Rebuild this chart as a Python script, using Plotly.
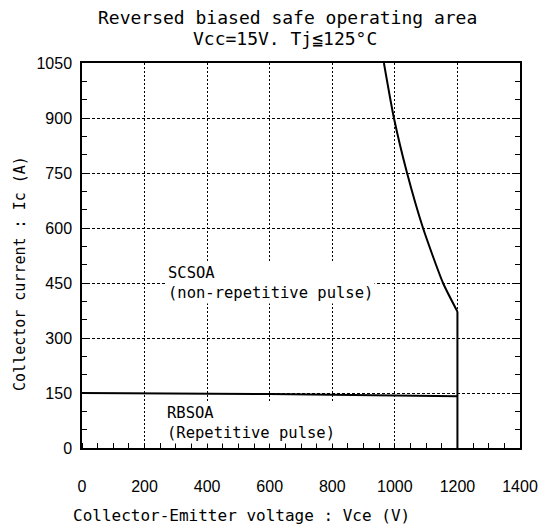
import plotly.graph_objects as go

# data
scsoa_v = [965, 997, 1039, 1090, 1154, 1200]
scsoa_i = [1050, 900, 750, 600, 450, 372]
vce_limit_v = [1200, 1200]
vce_limit_i = [372, 0]
rbsoa_v = [0, 600, 1200]
rbsoa_i = [150, 147, 141]
x_ticks = [0, 200, 400, 600, 800, 1000, 1200, 1400]
y_ticks = [0, 150, 300, 450, 600, 750, 900, 1050]
title_lines = ["Reversed biased safe operating area", "Vcc=15V. Tj≦125°C"]

mono = "DejaVu Sans Mono, Liberation Mono, monospace"
narrow = "Liberation Sans Narrow, Liberation Sans, Arial, sans-serif"

fig = go.Figure()
fig.add_trace(go.Scatter(x=scsoa_v, y=scsoa_i, mode="lines",
                         line=dict(color="black", width=2, shape="spline", smoothing=0.6),
                         showlegend=False))
fig.add_trace(go.Scatter(x=vce_limit_v, y=vce_limit_i, mode="lines",
                         line=dict(color="black", width=2), showlegend=False))
fig.add_trace(go.Scatter(x=rbsoa_v, y=rbsoa_i, mode="lines",
                         line=dict(color="black", width=2), showlegend=False))

fig.add_annotation(x=268, y=508, xref="x", yref="y", text="SCSOA<br>(non-repetitive pulse)",
                   showarrow=False, xanchor="left", yanchor="top", align="left",
                   bgcolor="white",
                   font=dict(family=mono, size=15.5, color="black"))
fig.add_annotation(x=264, y=125, xref="x", yref="y", text="RBSOA<br>(Repetitive pulse)",
                   showarrow=False, xanchor="left", yanchor="top", align="left",
                   bgcolor="white",
                   font=dict(family=mono, size=15.5, color="black"))

# title lines
fig.add_annotation(x=0.470, y=1, xref="paper", yref="paper", yshift=46,
                   text=title_lines[0], showarrow=False,
                   xanchor="center", yanchor="middle",
                   font=dict(family=mono, size=18, color="black"))
fig.add_annotation(x=0.463, y=1, xref="paper", yref="paper", yshift=25,
                   text=title_lines[1], showarrow=False,
                   xanchor="center", yanchor="middle",
                   font=dict(family=mono, size=18, color="black"))

# axis titles (placed as in the reference)
fig.add_annotation(x=0.365, y=0, xref="paper", yref="paper", yshift=-67,
                   text="Collector-Emitter voltage : Vce (V)", showarrow=False,
                   xanchor="center", yanchor="middle",
                   font=dict(family=mono, size=16, color="black"))
fig.add_annotation(x=0, y=0.452, xref="paper", yref="paper", xshift=-62,
                   text="Collector current : Ic (A)", showarrow=False, textangle=-90,
                   xanchor="center", yanchor="middle",
                   font=dict(family=mono, size=15, color="black"))

fig.update_layout(
    width=540, height=524,
    margin=dict(l=74, r=28, t=55, b=84, autoexpand=False),
    paper_bgcolor="white", plot_bgcolor="white",
    xaxis=dict(range=[0, 1400], tickvals=x_ticks, ticktext=[str(v) for v in x_ticks],
               showgrid=True, gridcolor="black", griddash="2px,2px", gridwidth=1.2,
               showline=True, linecolor="black", linewidth=1.5, mirror=True,
               ticks="", ticklabelstandoff=23, automargin=False,
               minor=dict(ticks="inside", dtick=50, tick0=0, ticklen=5, tickcolor="black", showgrid=False),
               tickfont=dict(family=narrow, size=16, color="black"),
               zeroline=False),
    yaxis=dict(range=[0, 1050], tickvals=y_ticks, ticktext=[str(v) for v in y_ticks],
               showgrid=True, gridcolor="black", griddash="3px,2px", gridwidth=1.2,
               showline=True, linecolor="black", linewidth=1.5, mirror="allticks",
               ticks="inside", ticklen=5, tickcolor="black", ticklabelstandoff=5,
               automargin=False,
               minor=dict(ticks="inside", dtick=50, tick0=0, ticklen=5, tickcolor="black", showgrid=False),
               tickfont=dict(family=narrow, size=16, color="black"),
               zeroline=False),
)

fig.write_html("out.html")
